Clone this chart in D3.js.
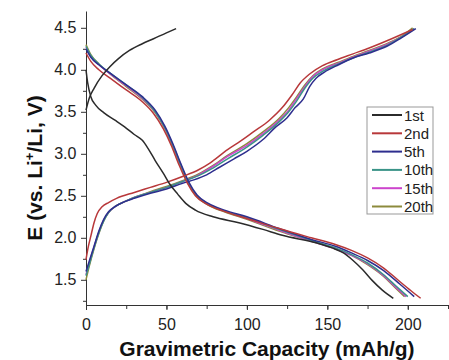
<!DOCTYPE html>
<html>
<head>
<meta charset="utf-8">
<script src="https://cdn.jsdelivr.net/npm/d3@7"></script>
<style>
  body { margin: 0; background: #fff; }
  svg { font-family: "Liberation Sans", Arial, sans-serif; }
  .line { fill: none; stroke-width: 1.5; }
</style>
</head>
<body>
<svg width="449" height="360"></svg>
<script>
// cycle names shown in the legend
const cycles = ["1st", "2nd", "5th", "10th", "15th", "20th"];

// [capacity mAh/g, voltage V]
const charge1st = [[0,3.52],[2,3.66],[5,3.78],[10,3.93],[15,4.04],[20,4.13],[27,4.23],[35,4.31],[42,4.37],[50,4.44],[56,4.49]];
const discharge1st = [[0,4.0],[1,3.85],[3,3.68],[6,3.58],[11,3.49],[18,3.4],[24,3.32],[30,3.23],[35,3.16],[39,3.05],[43,2.92],[48,2.77],[52,2.64],[57,2.52],[62,2.41],[68,2.33],[79,2.25],[95,2.18],[110,2.1],[122,2.03],[143,1.94],[153,1.88],[160,1.82],[166,1.73],[172,1.62],[178,1.49],[184,1.38],[191,1.28]];

const charge2nd = [[0,1.74],[1.5,1.9],[3,2.02],[5,2.18],[7,2.29],[10,2.37],[14,2.42],[19,2.47],[30,2.54],[40,2.6],[50,2.66],[60,2.73],[70,2.81],[77,2.89],[88,3.05],[96,3.15],[104,3.26],[114,3.4],[122,3.55],[128,3.7],[133,3.84],[139,3.95],[147,4.05],[156,4.12],[166,4.19],[176,4.26],[190,4.37],[203,4.48]];
const discharge2nd = [[0,4.2],[3,4.1],[8,4.0],[15,3.9],[25,3.76],[35,3.62],[42,3.48],[48,3.3],[53,3.1],[58,2.86],[63,2.65],[68,2.5],[75,2.4],[85,2.32],[100,2.23],[120,2.11],[140,2.0],[155,1.92],[165,1.85],[175,1.76],[185,1.64],[195,1.48],[202,1.37],[208,1.28]];

const charge5th = [[0,1.6],[2,1.72],[5,1.9],[8,2.08],[11,2.22],[14,2.31],[18,2.37],[24,2.43],[30,2.47],[40,2.53],[50,2.58],[60,2.65],[67,2.69],[75,2.75],[83,2.84],[92,2.94],[100,3.03],[110,3.17],[118,3.32],[125,3.43],[130,3.55],[135,3.65],[139,3.8],[143,3.9],[148,3.97],[157,4.06],[166,4.14],[176,4.2],[187,4.28],[196,4.38],[205,4.49]];
const discharge5th = [[0,4.25],[3,4.15],[8,4.06],[15,3.96],[25,3.82],[35,3.68],[43,3.52],[49,3.33],[54,3.12],[59,2.88],[64,2.66],[69,2.51],[76,2.41],[86,2.33],[100,2.25],[120,2.11],[140,1.98],[155,1.9],[165,1.82],[175,1.73],[185,1.61],[195,1.45],[204,1.3]];

const charge10th = [[0,1.55],[2,1.68],[5,1.88],[8,2.06],[11,2.2],[14,2.3],[18,2.37],[24,2.43],[30,2.48],[40,2.54],[50,2.6],[60,2.67],[70,2.74],[78,2.82],[88,2.94],[100,3.08],[110,3.22],[120,3.38],[126,3.5],[131,3.63],[136,3.78],[141,3.9],[147,3.98],[157,4.07],[166,4.14],[176,4.21],[188,4.3],[197,4.4],[204,4.49]];
const discharge10th = [[0,4.28],[3,4.17],[8,4.07],[15,3.96],[25,3.82],[35,3.67],[43,3.5],[49,3.31],[54,3.1],[59,2.86],[64,2.64],[69,2.5],[76,2.4],[86,2.32],[100,2.24],[120,2.1],[140,1.97],[155,1.88],[165,1.8],[175,1.7],[185,1.56],[193,1.42],[200,1.3]];

const charge15th = [[0,1.56],[2,1.7],[5,1.89],[8,2.07],[11,2.21],[14,2.3],[18,2.37],[24,2.43],[30,2.48],[40,2.54],[50,2.6],[60,2.67],[70,2.75],[78,2.84],[88,2.97],[100,3.1],[110,3.24],[120,3.4],[126,3.52],[131,3.66],[136,3.8],[141,3.92],[147,4.0],[157,4.08],[166,4.15],[176,4.22],[188,4.31],[197,4.4],[204,4.49]];
const discharge15th = [[0,4.27],[3,4.16],[8,4.06],[15,3.95],[25,3.81],[35,3.66],[43,3.5],[49,3.31],[54,3.1],[59,2.86],[64,2.64],[69,2.5],[76,2.4],[86,2.32],[100,2.23],[120,2.09],[140,1.96],[155,1.87],[165,1.79],[175,1.69],[185,1.55],[192,1.42],[199,1.3]];

const charge20th = [[0,1.5],[2,1.66],[5,1.87],[8,2.05],[11,2.2],[14,2.3],[18,2.37],[24,2.43],[30,2.48],[40,2.55],[50,2.61],[60,2.68],[70,2.76],[78,2.85],[88,2.98],[100,3.12],[110,3.26],[120,3.42],[126,3.55],[131,3.68],[136,3.82],[141,3.93],[147,4.01],[157,4.09],[166,4.16],[176,4.23],[188,4.32],[197,4.41],[203,4.5]];
const discharge20th = [[0,4.3],[3,4.18],[8,4.07],[15,3.95],[25,3.8],[35,3.65],[43,3.49],[49,3.3],[54,3.09],[59,2.85],[64,2.63],[69,2.49],[76,2.39],[86,2.31],[100,2.22],[120,2.08],[140,1.96],[155,1.87],[165,1.79],[175,1.68],[185,1.54],[192,1.41],[198,1.3]];

const xTicks = [0, 50, 100, 150, 200];
const yTicks = [1.5, 2.0, 2.5, 3.0, 3.5, 4.0, 4.5];

const curves = [
  { name: "1st", parts: [charge1st, discharge1st] },
  { name: "2nd", parts: [charge2nd, discharge2nd] },
  { name: "5th", parts: [charge5th, discharge5th] },
  { name: "10th", parts: [charge10th, discharge10th] },
  { name: "15th", parts: [charge15th, discharge15th] },
  { name: "20th", parts: [charge20th, discharge20th] }
];

const color = d3.scaleOrdinal()
  .domain(cycles)
  .range(["#2b2b2b", "#b8383a", "#2e2e8e", "#3a9488", "#cc44cc", "#8c8a3c"]);

const svg = d3.select("svg");

let x = d3.scaleLinear().domain([0, 225]).range([86, 448]);
let y = d3.scaleLinear().domain([1.2, 4.7]).range([305, 11]);

// axes with minor ticks
svg.append("g")
  .attr("transform", "translate(0,305)")
  .call(d3.axisBottom(x).tickValues(d3.range(25, 226, 25)).tickSize(4).tickFormat(""))
  .call(g => g.select(".domain").remove());
svg.append("g")
  .attr("class", "x axis")
  .attr("transform", "translate(0,305)")
  .call(d3.axisBottom(x).tickValues(xTicks).tickSizeInner(5).tickSizeOuter(0).tickFormat(d3.format("d")));

svg.append("g")
  .attr("transform", "translate(86,0)")
  .call(d3.axisLeft(y).tickValues(d3.range(1.25, 4.7, 0.5)).tickSize(3).tickFormat(""))
  .call(g => g.select(".domain").remove());
svg.append("g")
  .attr("class", "y axis")
  .attr("transform", "translate(86,0)")
  .call(d3.axisLeft(y).tickValues(yTicks).tickSizeInner(5).tickSizeOuter(0).tickFormat(d3.format(".1f")));

svg.selectAll(".axis path, .axis line, g line").attr("stroke", "#333");
svg.selectAll(".axis text")
  .attr("font-size", 16)
  .attr("fill", "#222")
  .attr("font-family", "Liberation Sans, Arial, sans-serif");
svg.selectAll(".x.axis text").attr("dy", "1.05em");
svg.selectAll(".y.axis text").attr("dx", "-0.1em");

let line = d3.line()
  .x(d => x(d[0]))
  .y(d => y(d[1]))
  .curve(d3.curveMonotoneX);

// draw later cycles first so the 1st stays on top like in the picture
curves.slice().reverse().forEach(c => {
  c.parts.forEach(p => {
    svg.append("path")
      .datum(p)
      .attr("class", "line")
      .attr("stroke", color(c.name))
      .attr("d", line);
  });
});

// legend
let lg = svg.append("g").attr("transform", "translate(367,107)");
lg.append("rect")
  .attr("width", 66).attr("height", 107)
  .attr("fill", "#fff").attr("stroke", "#999");
cycles.forEach((name, i) => {
  let yy = 8 + i * 18.3;
  lg.append("line")
    .attr("x1", 5).attr("x2", 35).attr("y1", yy).attr("y2", yy)
    .attr("stroke", color(name)).attr("stroke-width", 2);
  lg.append("text")
    .attr("x", 37).attr("y", yy + 5.5)
    .attr("font-size", 15).attr("fill", "#222")
    .text(name);
});

// axis titles
svg.append("text")
  .attr("x", 267).attr("y", 356)
  .attr("text-anchor", "middle")
  .attr("font-size", 21).attr("font-weight", "bold").attr("fill", "#111")
  .text("Gravimetric Capacity (mAh/g)");

let yt = svg.append("text")
  .attr("transform", "translate(42,168) rotate(-90)")
  .attr("text-anchor", "middle")
  .attr("font-size", 21).attr("font-weight", "bold").attr("fill", "#111");
yt.append("tspan").text("E (vs. Li");
yt.append("tspan").attr("font-size", 13).attr("dy", -8).text("+");
yt.append("tspan").attr("dy", 8).text("/Li, V)");
</script>
</body>
</html>
